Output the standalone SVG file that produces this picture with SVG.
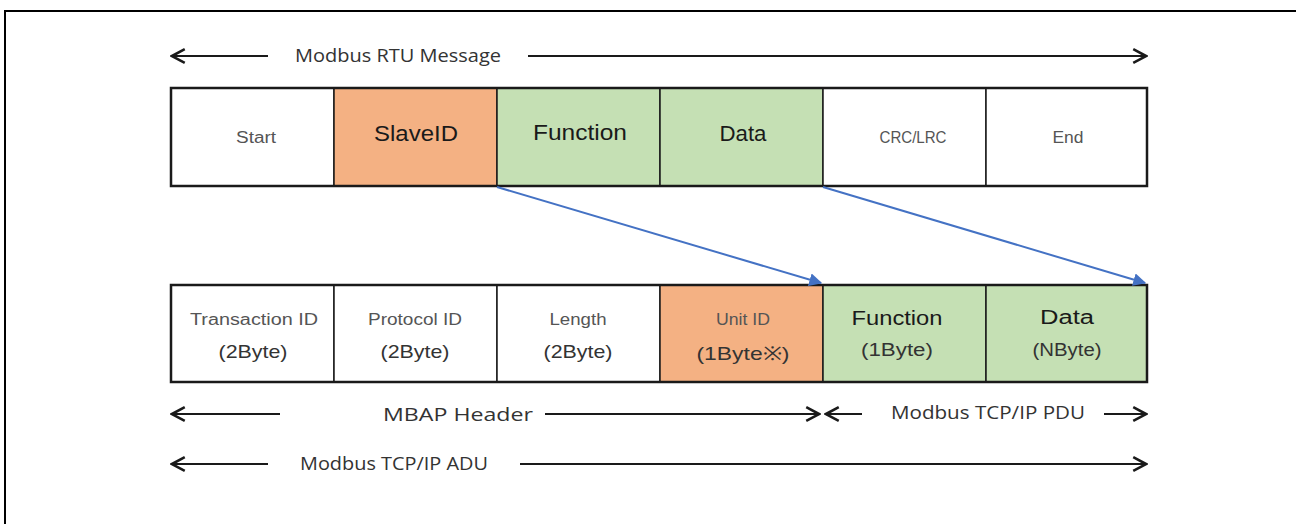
<svg xmlns="http://www.w3.org/2000/svg" width="1296" height="524" viewBox="0 0 1296 524">
<style>
.cell{stroke:#1a1a1a;stroke-width:1.5}
.w{fill:#ffffff}.o{fill:#F4B183}.g{fill:#C5E0B4}
.big{font-family:"Liberation Sans",Arial,sans-serif;font-size:22px;fill:#1a1a1a;text-anchor:middle}
.sm{font-family:"Liberation Sans",Arial,sans-serif;font-size:16px;fill:#555;text-anchor:middle}
.mid{font-family:"Liberation Sans",Arial,sans-serif;font-size:19px;fill:#333;text-anchor:middle}
.lbl{font-family:"Open Sans",Lato,sans-serif;font-size:17.5px;fill:#333;text-anchor:middle}
.ln{stroke:#1a1a1a;stroke-width:2.2;fill:none}
.bl{stroke:#4472C4;stroke-width:2;fill:none}
</style>
<defs>
<marker id="ah" viewBox="0 0 10 10" refX="9" refY="5" markerWidth="17" markerHeight="17" markerUnits="userSpaceOnUse" orient="auto"><path d="M1.5,1 L9,5 L1.5,9" fill="none" stroke="#1a1a1a" stroke-width="1.5"/></marker>
<marker id="bh" viewBox="0 0 10 10" refX="9" refY="5" markerWidth="13" markerHeight="13" markerUnits="userSpaceOnUse" orient="auto"><path d="M0,0 L10,5 L0,10 z" fill="#4472C4"/></marker>
</defs>
<rect width="1296" height="524" fill="#fff"/>
<path d="M5,534 V11 H1310" fill="none" stroke="#000" stroke-width="2"/>
<g id="rtu">
<g id="n-start"><rect class="cell w" x="171" y="88" width="163" height="98"/><text class="sm" x="256" y="143" textLength="40" lengthAdjust="spacingAndGlyphs">Start</text></g>
<g id="n-slaveid"><rect class="cell o" x="334" y="88" width="163" height="98"/><text class="big" x="416" y="141" textLength="84" lengthAdjust="spacingAndGlyphs">SlaveID</text></g>
<g id="n-function"><rect class="cell g" x="497" y="88" width="163" height="98"/><text class="big" x="580" y="140" textLength="94" lengthAdjust="spacingAndGlyphs">Function</text></g>
<g id="n-data"><rect class="cell g" x="660" y="88" width="163" height="98"/><text class="big" x="743" y="141" textLength="47" lengthAdjust="spacingAndGlyphs">Data</text></g>
<g id="n-crc"><rect class="cell w" x="823" y="88" width="163" height="98"/><text class="sm" x="913" y="143" textLength="67" lengthAdjust="spacingAndGlyphs">CRC/LRC</text></g>
<g id="n-end"><rect class="cell w" x="986" y="88" width="161" height="98"/><text class="sm" x="1068" y="143" textLength="31" lengthAdjust="spacingAndGlyphs">End</text></g>
<rect x="171" y="88" width="976" height="98" fill="none" stroke="#1a1a1a" stroke-width="2.5"/>
</g>
<g id="tcp">
<g id="n-trans"><rect class="cell w" x="171" y="285" width="163" height="97"/><text class="sm" x="254" y="325" textLength="128" lengthAdjust="spacingAndGlyphs">Transaction ID</text><text class="mid" x="253" y="358" textLength="69" lengthAdjust="spacingAndGlyphs">(2Byte)</text></g>
<g id="n-proto"><rect class="cell w" x="334" y="285" width="163" height="97"/><text class="sm" x="415" y="325" textLength="94" lengthAdjust="spacingAndGlyphs">Protocol ID</text><text class="mid" x="415" y="358" textLength="69" lengthAdjust="spacingAndGlyphs">(2Byte)</text></g>
<g id="n-len"><rect class="cell w" x="497" y="285" width="163" height="97"/><text class="sm" x="578" y="325" textLength="57" lengthAdjust="spacingAndGlyphs">Length</text><text class="mid" x="578" y="358" textLength="69" lengthAdjust="spacingAndGlyphs">(2Byte)</text></g>
<g id="n-unit"><rect class="cell o" x="660" y="285" width="163" height="97"/><text class="sm" x="743" y="325" fill="#7a4a30" textLength="54" lengthAdjust="spacingAndGlyphs">Unit ID</text><text class="mid" x="743" y="360" textLength="93" lengthAdjust="spacingAndGlyphs">(1Byte※)</text></g>
<g id="n-func2"><rect class="cell g" x="823" y="285" width="163" height="97"/><text class="big" x="897" y="325" style="font-size:21px" textLength="91" lengthAdjust="spacingAndGlyphs">Function</text><text class="mid" x="897" y="356" style="font-size:18px" textLength="72" lengthAdjust="spacingAndGlyphs">(1Byte)</text></g>
<g id="n-data2"><rect class="cell g" x="986" y="285" width="161" height="97"/><text class="big" x="1067" y="324" style="font-size:20px" textLength="54" lengthAdjust="spacingAndGlyphs">Data</text><text class="mid" x="1067" y="356" style="font-size:18px" textLength="69" lengthAdjust="spacingAndGlyphs">(NByte)</text></g>
<rect x="171" y="285" width="976" height="97" fill="none" stroke="#1a1a1a" stroke-width="2.5"/>
</g>
<g id="connectors">
<line class="ln" x1="268" y1="56" x2="172" y2="56" marker-end="url(#ah)"/>
<line class="ln" x1="528" y1="56" x2="1146" y2="56" marker-end="url(#ah)"/>
<line class="bl" x1="497" y1="187" x2="821" y2="283" marker-end="url(#bh)"/>
<line class="bl" x1="823" y1="187" x2="1145" y2="283" marker-end="url(#bh)"/>
<line class="ln" x1="280" y1="414" x2="172" y2="414" marker-end="url(#ah)"/>
<line class="ln" x1="545" y1="414" x2="819" y2="414" marker-end="url(#ah)"/>
<line class="ln" x1="862" y1="414" x2="826" y2="414" marker-end="url(#ah)"/>
<line class="ln" x1="1104" y1="414" x2="1146" y2="414" marker-end="url(#ah)"/>
<line class="ln" x1="268" y1="464" x2="172" y2="464" marker-end="url(#ah)"/>
<line class="ln" x1="520" y1="464" x2="1146" y2="464" marker-end="url(#ah)"/>
</g>
<g id="labels">
<text class="lbl" x="398" y="62" textLength="206" lengthAdjust="spacingAndGlyphs">Modbus RTU Message</text>
<text class="lbl" x="458" y="421" textLength="150" lengthAdjust="spacingAndGlyphs">MBAP Header</text>
<text class="lbl" x="988" y="419" textLength="194" lengthAdjust="spacingAndGlyphs">Modbus TCP/IP PDU</text>
<text class="lbl" x="394" y="470" textLength="188" lengthAdjust="spacingAndGlyphs">Modbus TCP/IP ADU</text>
</g>
</svg>
